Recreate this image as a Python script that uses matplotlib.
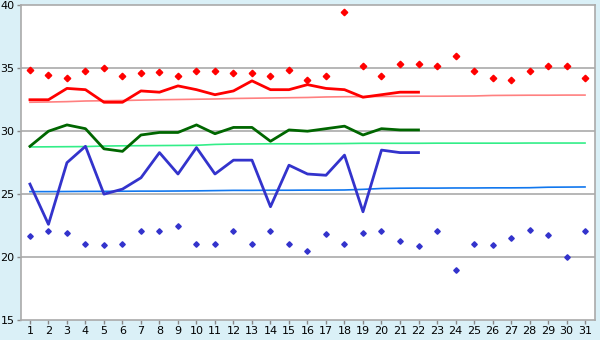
import matplotlib
matplotlib.use("Agg")
import matplotlib.pyplot as plt

days = list(range(1, 32))
days_obs = list(range(1, 23))

rec_max = [34.9, 34.5, 34.2, 34.8, 35.0, 34.4, 34.6, 34.7, 34.4, 34.8,
           34.8, 34.6, 34.6, 34.4, 34.9, 34.1, 34.4, 39.5, 35.2, 34.4,
           35.3, 35.3, 35.2, 36.0, 34.8, 34.2, 34.1, 34.8, 35.2, 35.2, 34.2]
obs_max = [32.5, 32.5, 33.4, 33.3, 32.3, 32.3, 33.2, 33.1, 33.6, 33.3,
           32.9, 33.2, 34.0, 33.3, 33.3, 33.7, 33.4, 33.3, 32.7, 32.9,
           33.1, 33.1]
norm_max = [32.3, 32.32, 32.35, 32.4, 32.42, 32.44, 32.47, 32.5, 32.52, 32.54,
            32.56, 32.6, 32.62, 32.64, 32.66, 32.68, 32.72, 32.74, 32.75, 32.76,
            32.77, 32.78, 32.78, 32.79, 32.8, 32.84, 32.85, 32.86, 32.86, 32.87, 32.87]
obs_mean = [28.8, 30.0, 30.5, 30.2, 28.6, 28.4, 29.7, 29.9, 29.9, 30.5,
            29.8, 30.3, 30.3, 29.2, 30.1, 30.0, 30.2, 30.4, 29.7, 30.2,
            30.1, 30.1]
norm_mean = [28.75, 28.76, 28.77, 28.78, 28.82, 28.84, 28.85, 28.86, 28.87, 28.88,
             28.95, 28.98, 28.99, 29.0, 29.0, 29.0, 29.01, 29.02, 29.04, 29.04,
             29.04, 29.04, 29.05, 29.05, 29.05, 29.05, 29.05, 29.06, 29.06, 29.06, 29.06]
obs_min = [25.8, 22.6, 27.5, 28.8, 25.0, 25.4, 26.3, 28.3, 26.6, 28.7,
           26.6, 27.7, 27.7, 24.0, 27.3, 26.6, 26.5, 28.1, 23.6, 28.5,
           28.3, 28.3]
norm_min = [25.2, 25.2, 25.21, 25.22, 25.22, 25.23, 25.24, 25.24, 25.25, 25.26,
            25.28, 25.3, 25.3, 25.31, 25.31, 25.32, 25.32, 25.33, 25.38, 25.45,
            25.47, 25.48, 25.48, 25.49, 25.49, 25.5, 25.5, 25.51, 25.55, 25.56, 25.57]
rec_min = [21.7, 22.1, 21.9, 21.0, 20.95, 21.0, 22.1, 22.1, 22.5, 21.0,
           21.0, 22.1, 21.0, 22.1, 21.0, 20.5, 21.8, 21.0, 21.9, 22.1,
           21.3, 20.9, 22.1, 19.0, 21.0, 20.95, 21.5, 22.15, 21.75, 20.0, 22.1]

y_ticks = [15, 20, 25, 30, 35, 40]

fig = plt.figure(figsize=(6, 3.4), dpi=100)
fig.patch.set_facecolor("#daf0f7")
ax = fig.add_axes([0.0345, 0.0588, 0.9575, 0.9255])
ax.set_facecolor("white")

for v in y_ticks[1:-1]:
    ax.axhline(v, color="#aaaaaa", lw=1.2, zorder=1)

ax.plot(days, norm_max, color="#ff8080", lw=1.2, zorder=2)
ax.plot(days, norm_mean, color="#33ee88", lw=1.2, zorder=2)
ax.plot(days, norm_min, color="#1177ee", lw=1.2, zorder=2)
ax.plot(days_obs, obs_max, color="#ff0000", lw=2.0, zorder=3)
ax.plot(days_obs, obs_mean, color="#006600", lw=2.0, zorder=3)
ax.plot(days_obs, obs_min, color="#3333cc", lw=2.0, zorder=3)
ax.plot(days, rec_max, ls="none", marker="D", ms=3.3, color="#ff0000", zorder=4)
ax.plot(days, rec_min, ls="none", marker="D", ms=2.8, color="#3333cc", zorder=4)

ax.set_xlim(0.5, 31.55)
ax.set_ylim(15, 40)
ax.set_xticks(days)
ax.set_yticks(y_ticks)
ax.tick_params(axis="both", labelsize=8, color="#888888", length=3, width=1, pad=1.5)
for s in ax.spines.values():
    s.set_color("#aaaaaa")
    s.set_linewidth(1.2)

fig.savefig("out.png", dpi=100, facecolor=fig.get_facecolor())
